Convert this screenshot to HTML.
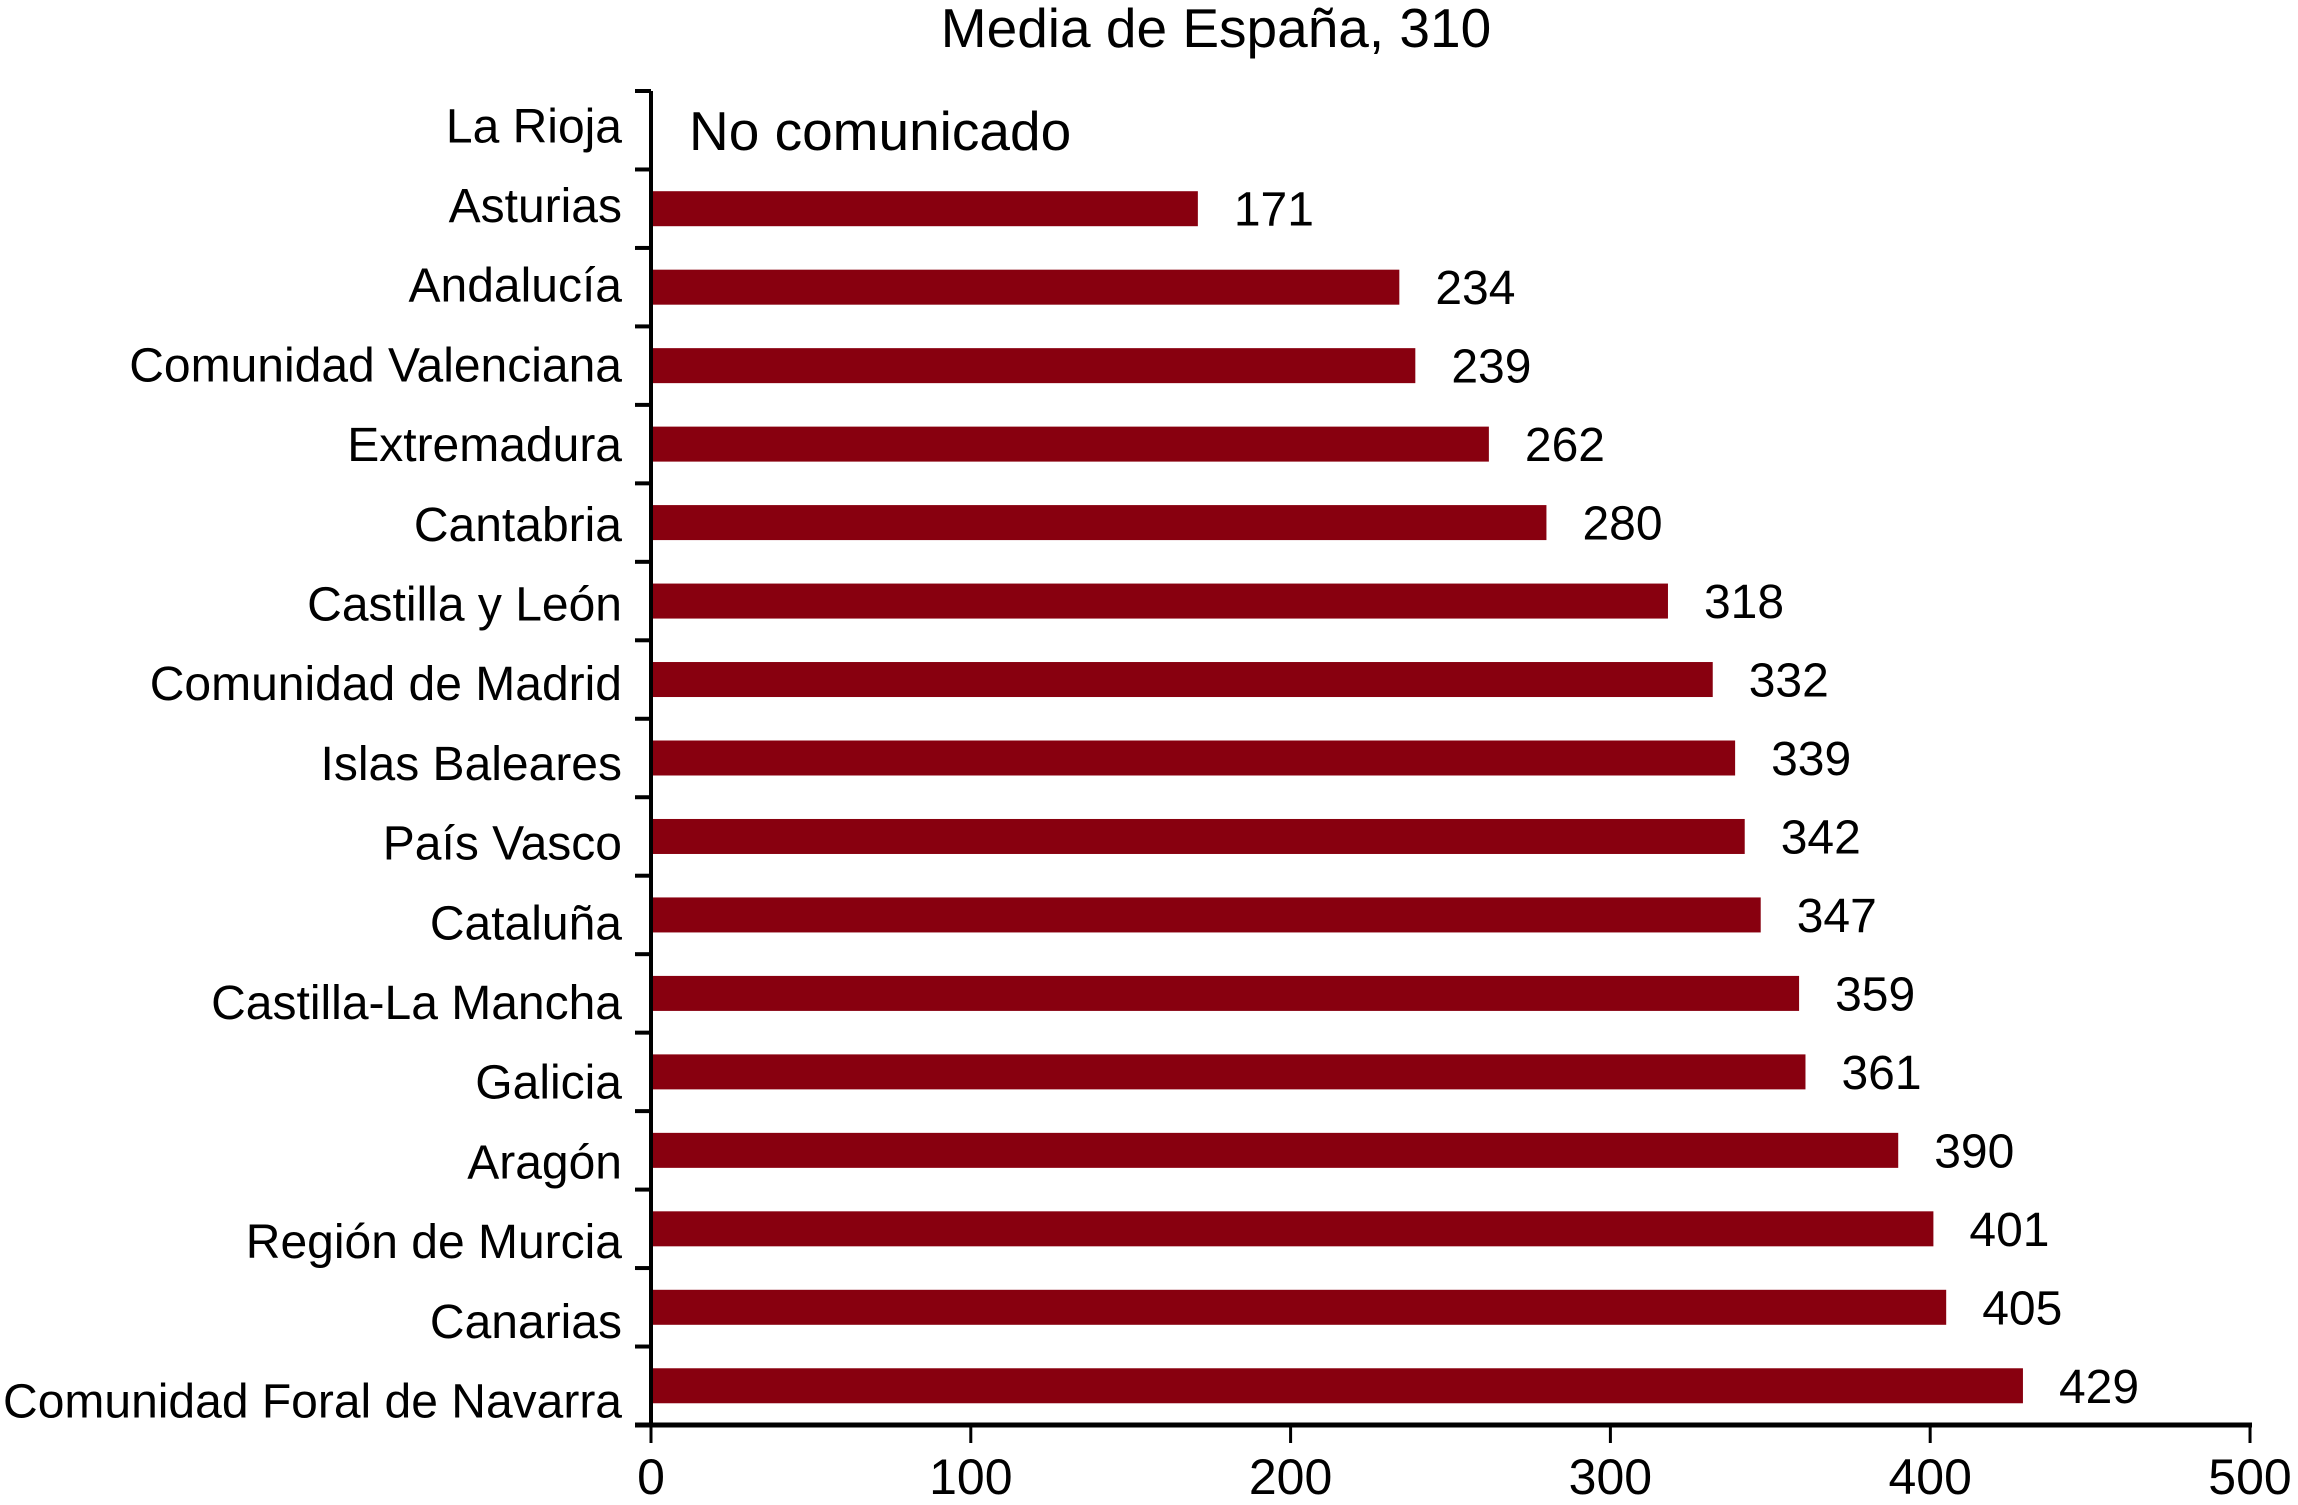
<!DOCTYPE html>
<html><head><meta charset="utf-8"><style>
html,body{margin:0;padding:0;background:#fff;}
svg{display:block;font-family:"Liberation Sans",Arial,sans-serif;}
</style></head><body>
<svg id="chart" width="2298" height="1505" viewBox="0 0 2298 1505" xmlns="http://www.w3.org/2000/svg">
<text x="1216" y="47" font-size="55" text-anchor="middle" fill="#000">Media de España, 310</text>
<g id="plot"></g>
</svg>
<script>
const categories = ["La Rioja","Asturias","Andalucía","Comunidad Valenciana","Extremadura","Cantabria","Castilla y León","Comunidad de Madrid","Islas Baleares","País Vasco","Cataluña","Castilla-La Mancha","Galicia","Aragón","Región de Murcia","Canarias","Comunidad Foral de Navarra"];
const values = [null,171,234,239,262,280,318,332,339,342,347,359,361,390,401,405,429];
const xTicks = [0,100,200,300,400,500];

const X0 = 651, X1 = 2250, Y0 = 91, Y1 = 1425;
const xMax = 500;
const band = (Y1 - Y0) / categories.length;
const xs = v => X0 + (v / xMax) * (X1 - X0);
const ys = i => Y0 + band * i;
const NS = "http://www.w3.org/2000/svg";
const g = document.getElementById('plot');
function mk(tag, attrs, text) {
  const e = document.createElementNS(NS, tag);
  for (const k in attrs) e.setAttribute(k, attrs[k]);
  if (text !== undefined) e.textContent = text;
  g.appendChild(e);
  return e;
}
const barH = 35;
categories.forEach((c, i) => {
  const cy = ys(i) + band / 2;
  const ly = 205 + (i - 1) * 79.7;
  const lab = mk('text', {x: 622, y: ly + 17, 'font-size': 48, 'text-anchor': 'end', fill: '#000'}, c);
  
  
  const v = values[i];
  if (v === null) {
    const nc = mk('text', {x: 689, y: 150, 'font-size': 55, fill: '#000'}, 'No comunicado');
    
    
  } else {
    const b = mk('rect', {x: X0, y: cy - barH / 2, width: xs(v) - X0, height: barH, fill: '#88000f'});
    
    
    const t = mk('text', {x: xs(v) + 36, y: cy + 17, 'font-size': 48, fill: '#000'}, String(v));
    
    
  }
});
for (let i = 0; i <= categories.length; i++) {
  const tk = mk('line', {x1: X0 - 16, x2: X0, y1: ys(i), y2: ys(i), stroke: '#000', 'stroke-width': 4});
  
  
}
const ya = mk('line', {x1: X0, x2: X0, y1: Y0, y2: Y1, stroke: '#000', 'stroke-width': 4});


const xa = mk('line', {x1: X0 - 16, x2: X1 + 2, y1: Y1, y2: Y1, stroke: '#000', 'stroke-width': 5});


xTicks.forEach(v => {
  const tk = mk('line', {x1: xs(v), x2: xs(v), y1: Y1, y2: Y1 + 18, stroke: '#000', 'stroke-width': 3});
  
  
  const tl = mk('text', {x: xs(v), y: 1494, 'font-size': 50, 'text-anchor': 'middle', fill: '#000'}, String(v));
  
  
});
</script>
</body></html>
